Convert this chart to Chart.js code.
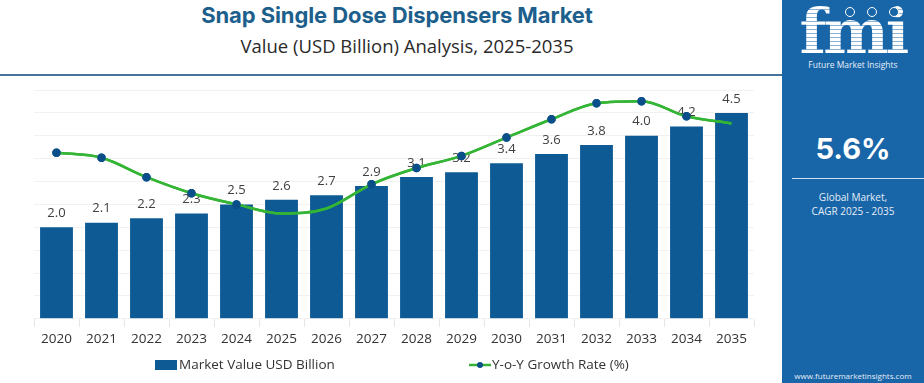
<!DOCTYPE html>
<html>
<head>
<meta charset="utf-8">
<script src="https://cdn.jsdelivr.net/npm/chart.js@4.4.1/dist/chart.umd.min.js"></script>
<style>
  html,body{margin:0;padding:0;background:#fff;}
  body{width:924px;height:383px;position:relative;overflow:hidden;font-family:"Open Sans","Noto Sans",sans-serif;}
  #title{position:absolute;left:0;width:794px;top:2px;text-align:center;font-family:Inter,"Open Sans",sans-serif;font-weight:700;font-size:22px;color:#1d5f8c;letter-spacing:-0.1px;}
  #subtitle{position:absolute;left:10px;width:794px;top:33px;text-align:center;font-family:"Open Sans",sans-serif;font-size:18.5px;color:#2a2a2a;}
  #hline{position:absolute;left:0;top:74px;width:782px;height:2px;background:#46739c;}
  #panel{position:absolute;left:782px;top:0;width:142px;height:383px;background:#1865a8;color:#fff;}
  #logo{position:absolute;left:0;top:2px;width:142px;text-align:center;font-family:"DejaVu Serif",serif;font-weight:700;font-size:62px;line-height:60px;
        background:repeating-linear-gradient(180deg,#fff 0px,#fff 3px,rgba(255,255,255,0.5) 3px,rgba(255,255,255,0.5) 4px);
        -webkit-background-clip:text;background-clip:text;color:transparent;letter-spacing:-3px;}
  .ic{position:absolute;top:7px;width:10px;height:10px;border-radius:50%;border:1.6px solid #fff;box-sizing:border-box;background:#1865a8;}
  #logosub{position:absolute;left:0;top:59px;width:142px;text-align:center;font-size:8.5px;color:#e8f0f8;font-family:"Open Sans",sans-serif;}
  #cagr{position:absolute;left:0;top:131px;width:142px;text-align:center;font-family:Inter,sans-serif;font-weight:700;font-size:29px;}
  #cline{position:absolute;left:10px;top:178px;width:132px;height:1px;background:#cfe0f0;}
  #glob{position:absolute;left:0;top:190px;width:142px;text-align:center;font-size:10px;line-height:14px;color:#e6eef7;}
  #url{position:absolute;left:0;top:370px;width:142px;text-align:center;font-size:8px;color:#e6eef7;}
  #wrap{position:absolute;left:0;top:80px;width:780px;height:303px;}
</style>
</head>
<body>
<div id="title">Snap Single Dose Dispensers Market</div>
<div id="subtitle">Value (USD Billion) Analysis, 2025-2035</div>
<div id="hline"></div>
<div id="panel">
  <div id="logo">fmi</div>
  <div class="ic" style="left:63px"></div>
  <div class="ic" style="left:85px"></div>
  <div class="ic" style="left:107px"></div>
  <div id="logosub">Future Market Insights</div>
  <div id="cagr">5.6%</div>
  <div id="cline"></div>
  <div id="glob">Global Market,<br>CAGR 2025 - 2035</div>
  <div id="url">www.futuremarketinsights.com</div>
</div>
<div id="wrap"><canvas id="c" width="780" height="303"></canvas></div>
<script>
const years = ["2020","2021","2022","2023","2024","2025","2026","2027","2028","2029","2030","2031","2032","2033","2034","2035"];
const marketValue = [2.0,2.1,2.2,2.3,2.5,2.6,2.7,2.9,3.1,3.2,3.4,3.6,3.8,4.0,4.2,4.5];
const growthRate = [7.26,7.04,6.19,5.49,5.0,4.6,4.82,5.88,6.59,7.12,7.92,8.72,9.42,9.51,8.85,8.54];
const seriesNames = ["Market Value USD Billion","Y-o-Y Growth Rate (%)"];

const BLUE = "#0d5a95", GREEN = "#35b535", MARK = "#0b4f8a";

const labelPlugin = {
  id:"vlabels",
  afterDatasetsDraw(chart){
    const ctx = chart.ctx;
    const meta = chart.getDatasetMeta(0);
    ctx.save();
    ctx.font = "13px 'Open Sans', sans-serif";
    ctx.fillStyle = "#404040";
    ctx.textAlign = "center";
    ctx.textBaseline = "middle";
    meta.data.forEach((b,i)=>{
      ctx.fillText(marketValue[i].toFixed(1), b.x, b.y - 14);
    });
    ctx.restore();
    chart.getDatasetMeta(1).controller.draw();
  }
};

const legendPlugin = {
  id:"customLegend",
  afterDraw(chart){
    const ctx = chart.ctx;
    const y = 285;
    ctx.save();
    ctx.font = "13.5px 'Open Sans', sans-serif";
    ctx.textBaseline = "middle";
    ctx.fillStyle = BLUE;
    ctx.fillRect(155, y-5, 22, 10);
    ctx.fillStyle = "#333";
    ctx.textAlign = "left";
    ctx.fillText(chart.data.datasets[0].label, 179, y);
    ctx.strokeStyle = GREEN; ctx.lineWidth = 2.5;
    ctx.beginPath(); ctx.moveTo(469, y); ctx.lineTo(491, y); ctx.stroke();
    ctx.fillStyle = MARK;
    ctx.beginPath(); ctx.arc(480, y, 3, 0, Math.PI*2); ctx.fill();
    ctx.fillStyle = "#333";
    ctx.fillText(chart.data.datasets[1].label, 492, y);
    ctx.restore();
  }
};

new Chart(document.getElementById("c"), {
  data:{
    labels: years,
    datasets:[
      {type:"bar", label:seriesNames[0], data:marketValue, backgroundColor:BLUE, yAxisID:"y", order:2,
       categoryPercentage:1.0, barPercentage:0.73},
      {type:"line", label:seriesNames[1], data:growthRate, yAxisID:"y2", order:1,
       borderColor:GREEN, borderWidth:2.5, tension:0.4, cubicInterpolationMode:"monotone",
       pointBackgroundColor:MARK, pointBorderColor:MARK,
       pointRadius:[3,3,3,3,3,0,0,3,3,3,3,3,3,3,3,0]}
    ]
  },
  options:{
    responsive:false, animation:false,
    layout:{padding:{left:34,right:26,top:10,bottom:32}},
    plugins:{legend:{display:false}, tooltip:{enabled:false}},
    scales:{
      x:{
        grid:{display:true, drawOnChartArea:false, offset:true, tickLength:8, color:"#e6e6e6"},
        border:{display:false},
        ticks:{font:{size:13.5, family:"'Open Sans', sans-serif"}, color:"#333", padding:4, maxRotation:0, autoSkip:false}
      },
      y:{
        min:0, max:5, display:true,
        ticks:{display:false, stepSize:0.5},
        grid:{color:"#f1f1f1", drawTicks:false, lineWidth:1},
        border:{display:false}
      },
      y2:{min:0, max:10, display:false}
    }
  },
  plugins:[labelPlugin, legendPlugin]
});
</script>
</body>
</html>
